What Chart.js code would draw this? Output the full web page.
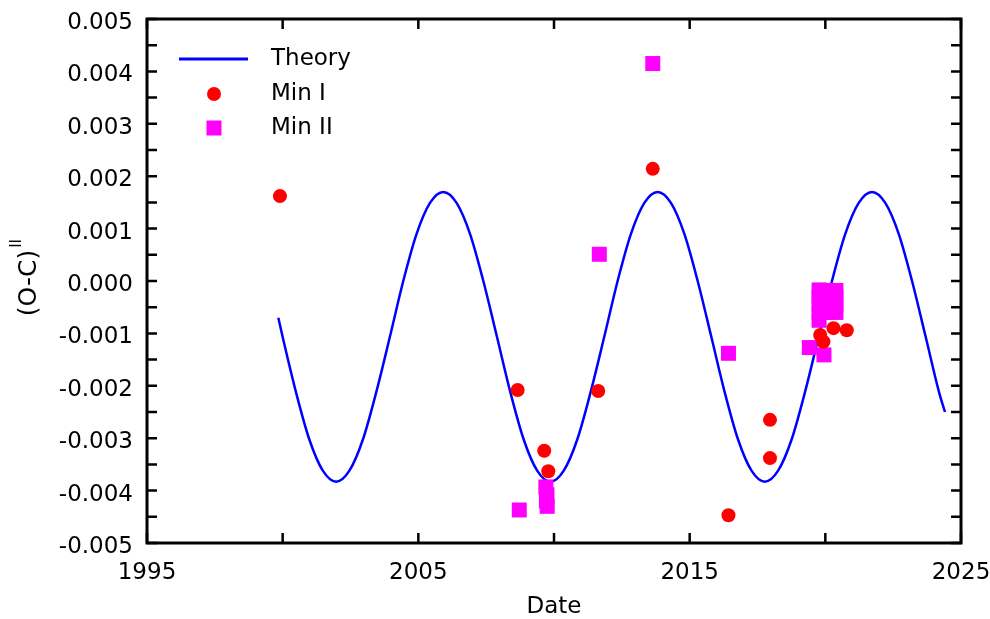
<!DOCTYPE html>
<html>
<head>
<meta charset="utf-8">
<script src="https://cdn.jsdelivr.net/npm/chart.js@4"></script>
<style>
  body { margin: 0; background: #fff; }
</style>
</head>
<body>
<canvas id="ocChart" width="990" height="619"></canvas>
<script>
// theory curve
const theoryYears = [1999.84, 2000.00, 2000.49, 2000.98, 2001.48, 2001.97, 2002.46, 2002.96, 2003.45, 2003.95,
  2004.44, 2004.93, 2005.43, 2005.92, 2006.41, 2006.91, 2007.40, 2007.90, 2008.39, 2008.88,
  2009.38, 2009.87, 2010.36, 2010.86, 2011.35, 2011.85, 2012.34, 2012.83, 2013.33, 2013.82,
  2014.31, 2014.81, 2015.30, 2015.80, 2016.29, 2016.78, 2017.28, 2017.77, 2018.26, 2018.76,
  2019.25, 2019.75, 2020.24, 2020.73, 2021.23, 2021.72, 2022.21, 2022.71, 2023.20, 2023.70,
  2024.19, 2024.41];
const theoryValues = [-0.00070, -0.00107, -0.00212, -0.00302, -0.00362, -0.00383, -0.00362, -0.00302, -0.00212, -0.00107,
  -0.00001, 0.00089, 0.00149, 0.00170, 0.00149, 0.00089, -0.00001, -0.00107, -0.00212, -0.00302,
  -0.00362, -0.00383, -0.00362, -0.00302, -0.00212, -0.00107, -0.00001, 0.00089, 0.00149, 0.00170,
  0.00149, 0.00089, -0.00001, -0.00107, -0.00212, -0.00302, -0.00362, -0.00383, -0.00362, -0.00302,
  -0.00212, -0.00107, -0.00001, 0.00089, 0.00149, 0.00170, 0.00149, 0.00089, -0.00001, -0.00107,
  -0.00212, -0.00250];

const minIYears = [1999.90, 2008.66, 2009.64, 2009.79, 2011.63, 2013.64, 2016.43, 2017.96, 2017.96,
  2019.81, 2019.93, 2020.30, 2020.79];
const minIValues = [0.00162, -0.00208, -0.00324, -0.00363, -0.00210, 0.00214, -0.00447, -0.00265, -0.00338,
  -0.00103, -0.00116, -0.00090, -0.00094];

const minIIYears = [2008.72, 2009.70, 2009.74, 2009.72, 2009.75, 2011.67, 2013.64, 2016.43, 2019.41, 2019.95,
  2019.77, 2019.77, 2019.77, 2019.77, 2019.77,
  2020.06, 2020.06, 2020.06, 2020.06,
  2020.25, 2020.25,
  2020.39, 2020.39, 2020.39, 2020.39];
const minIIValues = [-0.00437, -0.00393, -0.00408, -0.00420, -0.00430, 0.00051, 0.00415, -0.00138, -0.00127, -0.00141,
  -0.00017, -0.00030, -0.00045, -0.00060, -0.00075,
  -0.00018, -0.00035, -0.00050, -0.00060,
  -0.00025, -0.00055,
  -0.00018, -0.00032, -0.00046, -0.00060];

const xLabelYears = [1995, 2005, 2015, 2025];

const FONT = "'DejaVu Sans', sans-serif";

const toPoints = (xs, ys) => xs.map((x, i) => ({ x: x, y: ys[i] }));

// frame + inward ticks on all four sides
const frameTicks = {
  id: "frameTicks",
  afterDraw(chart) {
    const { ctx, chartArea: a, scales } = chart;
    const len = 10;
    ctx.save();
    ctx.strokeStyle = "#000";
    ctx.lineWidth = 2.5;
    ctx.beginPath();
    scales.x.ticks.forEach((t) => {
      const px = scales.x.getPixelForValue(t.value);
      ctx.moveTo(px, a.bottom);
      ctx.lineTo(px, a.bottom - len);
      ctx.moveTo(px, a.top);
      ctx.lineTo(px, a.top + len);
    });
    scales.y.ticks.forEach((t) => {
      const py = scales.y.getPixelForValue(t.value);
      ctx.moveTo(a.left, py);
      ctx.lineTo(a.left + len, py);
      ctx.moveTo(a.right, py);
      ctx.lineTo(a.right - len, py);
    });
    ctx.stroke();
    ctx.lineWidth = 3;
    ctx.strokeRect(a.left, a.top, a.right - a.left, a.bottom - a.top);
    ctx.restore();
  },
};

// legend inside the plot, top left
const innerLegend = {
  id: "innerLegend",
  afterDraw(chart) {
    const { ctx, chartArea: a } = chart;
    const ds = chart.data.datasets;
    const markX = a.left + 67;
    const textX = a.left + 124;
    const rows = [a.top + 40, a.top + 75, a.top + 109];
    ctx.save();
    ctx.font = "23px " + FONT;
    ctx.textBaseline = "middle";
    ctx.textAlign = "left";

    ctx.strokeStyle = ds[0].borderColor;
    ctx.lineWidth = 3;
    ctx.beginPath();
    ctx.moveTo(a.left + 32, rows[0]);
    ctx.lineTo(a.left + 101, rows[0]);
    ctx.stroke();

    ctx.fillStyle = ds[1].backgroundColor;
    ctx.beginPath();
    ctx.arc(markX, rows[1], ds[1].pointRadius, 0, Math.PI * 2);
    ctx.fill();

    ctx.fillStyle = ds[2].backgroundColor;
    ctx.fillRect(markX - 7.5, rows[2] - 7.5, 15, 15);

    ctx.fillStyle = "#000";
    ds.forEach((d, i) => ctx.fillText(d.label, textX, rows[i]));
    ctx.restore();
  },
};

// y axis title with superscript
const yTitle = {
  id: "yTitle",
  afterDraw(chart) {
    const ctx = chart.ctx;
    ctx.save();
    ctx.translate(29, 283);
    ctx.rotate(-Math.PI / 2);
    ctx.fillStyle = "#000";
    ctx.textBaseline = "middle";
    ctx.textAlign = "center";
    ctx.font = "25px " + FONT;
    const main = "(O-C)";
    const w = ctx.measureText(main).width;
    ctx.fillText(main, 0, 0);
    ctx.textAlign = "left";
    ctx.font = "15px " + FONT;
    ctx.fillText("II", w / 2 + 2, -12);
    ctx.restore();
  },
};

new Chart(document.getElementById("ocChart"), {
  type: "scatter",
  data: {
    datasets: [
      {
        label: "Theory",
        data: toPoints(theoryYears, theoryValues),
        showLine: true,
        borderColor: "#0000ff",
        borderWidth: 2.5,
        pointRadius: 0,
        cubicInterpolationMode: "monotone",
        order: 3,
      },
      {
        label: "Min I",
        data: toPoints(minIYears, minIValues),
        pointStyle: "circle",
        pointRadius: 7,
        backgroundColor: "#ff0000",
        borderColor: "#ff0000",
        borderWidth: 0,
        order: 1,
      },
      {
        label: "Min II",
        data: toPoints(minIIYears, minIIValues),
        pointStyle: "rect",
        pointRadius: 10.6,
        backgroundColor: "#ff00ff",
        borderColor: "#ff00ff",
        borderWidth: 0,
        order: 2,
      },
    ],
  },
  options: {
    responsive: false,
    animation: false,
    devicePixelRatio: 1,
    layout: { padding: { top: 19, right: 29, left: 0, bottom: 0 } },
    plugins: {
      legend: { display: false },
      tooltip: { enabled: false },
    },
    scales: {
      x: {
        type: "linear",
        min: 1995,
        max: 2025,
        afterFit: (s) => {
          s.height = 76;
          s.paddingLeft = 0;
          s.paddingRight = 0;
        },
        grid: { display: false, drawTicks: false },
        border: { display: false },
        ticks: {
          stepSize: 5,
          autoSkip: false,
          maxRotation: 0,
          padding: 16,
          color: "#000",
          font: { family: FONT, size: 23 },
          callback: (v) => (xLabelYears.includes(v) ? String(v) : ""),
        },
        title: {
          display: true,
          text: "Date",
          color: "#000",
          font: { family: FONT, size: 23, lineHeight: 1.0 },
          padding: { top: 0, bottom: 0 },
        },
      },
      y: {
        type: "linear",
        min: -0.005,
        max: 0.005,
        afterFit: (s) => {
          s.width = 147;
          s.paddingTop = 0;
          s.paddingBottom = 0;
        },
        grid: { display: false, drawTicks: false },
        border: { display: false },
        ticks: {
          stepSize: 0.0005,
          autoSkip: false,
          padding: 14,
          labelOffset: 4,
          color: "#000",
          font: { family: FONT, size: 23 },
          callback: (v) => (Math.round(v * 10000) % 10 === 0 ? v.toFixed(3) : ""),
        },
      },
    },
  },
  plugins: [frameTicks, innerLegend, yTitle],
});
</script>
</body>
</html>
